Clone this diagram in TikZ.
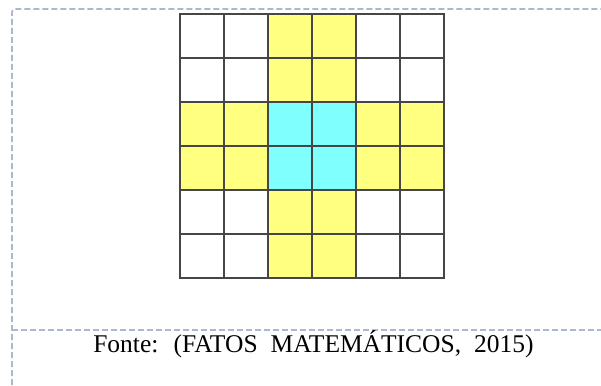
\documentclass[tikz,border=0pt]{standalone}
\usepackage{fontspec}
\setmainfont{Liberation Serif}
\usetikzlibrary{positioning}

\definecolor{frameblue}{RGB}{170,185,207}
\definecolor{cellyellow}{RGB}{255,255,128}
\definecolor{cellcyan}{RGB}{128,255,255}
\definecolor{gridgray}{RGB}{70,70,70}

\begin{document}
\begin{tikzpicture}[x=1pt, y=-1pt, cell/.style={draw=gridgray, line width=1.3pt, minimum size=44pt, inner sep=0pt, fill=white}, ycell/.style={cell, fill=cellyellow}, ccell/.style={cell, fill=cellcyan}, frame/.style={draw=frameblue, line width=1.6pt, dash pattern=on 6pt off 3pt}]

  \useasboundingbox (0,0) rectangle (601,385);

  % frame of the figure box
  \coordinate (ftop) at (601,9);
  \coordinate (fleft) at (12,385);
  \coordinate (sepl) at (12,330);
  \coordinate (sepr) at (601,330);
  \draw[frame, rounded corners=3pt] (fleft) -- (12,9) -- (ftop);
  \draw[frame] (sepl) -- (sepr);

  % 6x6 grid
  \foreach \r in {1,...,6} {
    \foreach \c in {1,...,6} {
      \node[cell] (c-\r-\c) at ({158+44*\c},{-8+44*\r}) {};
    }
  }
  \foreach \r/\c in {1/3,1/4,2/3,2/4,3/1,3/2,3/5,3/6,4/1,4/2,4/5,4/6,5/3,5/4,6/3,6/4}
    \node[ycell] at (c-\r-\c) {};
  \foreach \r/\c in {3/3,3/4,4/3,4/4}
    \node[ccell] at (c-\r-\c) {};

  \node[anchor=base, font=\fontsize{25.5}{30}\selectfont] (fonte) at (313.5,352) {\spaceskip=13pt Fonte: (FATOS MATEMÁTICOS, 2015)};
\end{tikzpicture}
\end{document}
